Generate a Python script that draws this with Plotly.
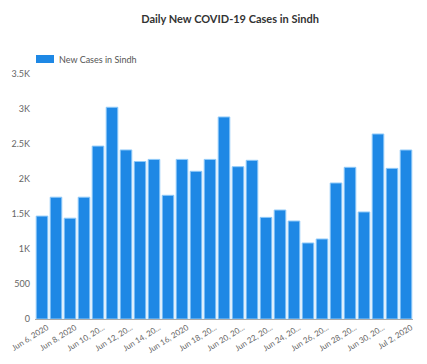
import plotly.graph_objects as go

dates = ["2020-06-%02d" % d for d in range(6, 31)] + ["2020-07-01", "2020-07-02"]
new_cases = [1470, 1740, 1440, 1740, 2470, 3025, 2415, 2250, 2280, 1767,
             2280, 2110, 2280, 2886, 2176, 2267, 1452, 1557, 1400, 1086,
             1143, 1943, 2167, 1529, 2643, 2152, 2414]

x_tick_vals = ["2020-06-06", "2020-06-08", "2020-06-10", "2020-06-12", "2020-06-14",
               "2020-06-16", "2020-06-18", "2020-06-20", "2020-06-22", "2020-06-24",
               "2020-06-26", "2020-06-28", "2020-06-30", "2020-07-02"]
x_tick_text = ["Jun 6, 2020", "Jun 8, 2020", "Jun 10, 20...", "Jun 12, 20...", "Jun 14, 20...",
               "Jun 16, 2020", "Jun 18, 20...", "Jun 20, 20...", "Jun 22, 20...", "Jun 24, 20...",
               "Jun 26, 20...", "Jun 28, 20...", "Jun 30, 20...", "Jul 2, 2020"]
y_tick_vals = [0, 500, 1000, 1500, 2000, 2500, 3000, 3500]
y_tick_text = ["0", "500", "1K", "1.5K", "2K", "2.5K", "3K", "3.5K"]
series_name = "New Cases in Sindh"
bar_color = "#1E88E5"

fig = go.Figure()
fig.add_trace(go.Bar(
    x=dates, y=new_cases, name=series_name,
    marker=dict(color=bar_color, line=dict(color="#90CAF9", width=1)),
    showlegend=False,
))

# page has an 8px body margin; figure is sized to fit the window
PW, PH = 378, 245  # plot area size
PL, PT = 35, 74    # plot area top-left in page pixels

fig.add_shape(type="rect", xref="paper", yref="paper",
              x0=(36 - PL) / PW, x1=(54 - PL) / PW,
              y0=(PT + PH - 63) / PH, y1=(PT + PH - 55) / PH,
              fillcolor=bar_color, line=dict(width=0))
fig.add_annotation(text=series_name, xref="paper", yref="paper",
                   x=(57 - PL) / PW, y=(PT + PH - 59.5) / PH, xanchor="left", yanchor="middle",
                   showarrow=False, font=dict(size=9, color="#555"))

fig.update_layout(
    width=419, height=356,
    margin=dict(l=27, r=14, t=66, b=45, autoexpand=False),
    paper_bgcolor="white", plot_bgcolor="white",
    font=dict(family="Lato, Open Sans, sans-serif", size=9, color="#666"),
    title=dict(text="<b>Daily New COVID-19 Cases in Sindh</b>", x=0.53, xanchor="center",
               y=0.969, yanchor="middle",
               font=dict(size=11, color="#333", family="Lato, Open Sans, sans-serif")),
    bargap=0.17,
    xaxis=dict(type="category", tickmode="array", tickvals=x_tick_vals, ticktext=x_tick_text,
               tickangle=-32, showgrid=False, showline=True, linecolor="#aaa", linewidth=1,
               ticks="", automargin=False, ticklabelshift=5,
               tickfont=dict(size=8, color="#666")),
    yaxis=dict(range=[0, 3500], tickmode="array", tickvals=y_tick_vals, ticktext=y_tick_text,
               showgrid=False, zeroline=False, showline=False, ticks="", automargin=False,
               ticklabelstandoff=4, tickfont=dict(size=9, color="#666")),
)

fig.write_html("out.html")
